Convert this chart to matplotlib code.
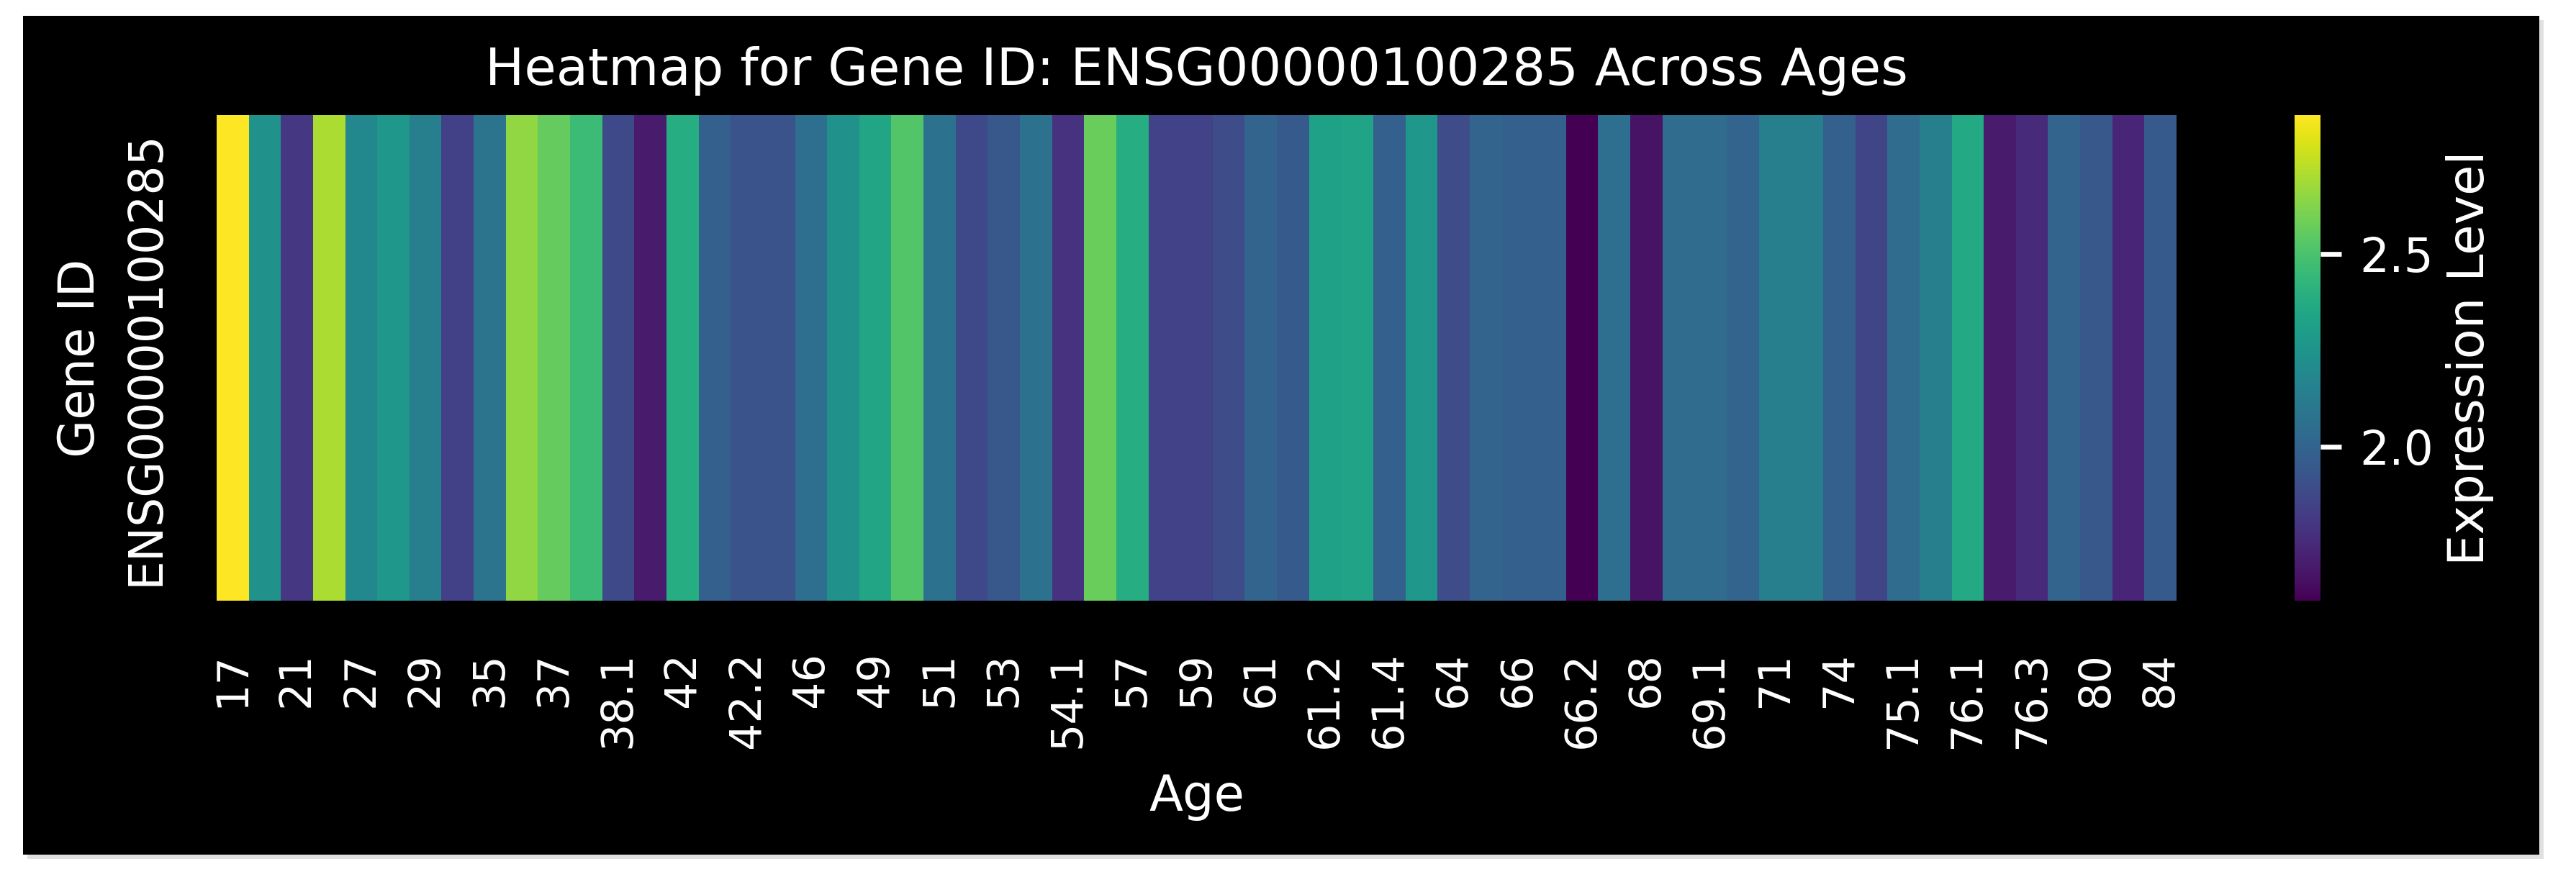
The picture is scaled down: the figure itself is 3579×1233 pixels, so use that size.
import numpy as np
import pandas as pd
import matplotlib
matplotlib.use("Agg")
import matplotlib.pyplot as plt
from matplotlib.patches import Rectangle
import seaborn as sns

# Datos
gene_id = "ENSG00000100285"

# solo se etiqueta una columna de cada dos
age_labels = ["17", "21", "27", "29", "35", "37", "38.1", "42", "42.2", "46",
              "49", "51", "53", "54.1", "57", "59", "61", "61.2", "61.4", "64",
              "66", "66.2", "68", "69.1", "71", "74", "75.1", "76.1", "76.3",
              "80", "84"]

expression = [2.86, 2.23, 1.80, 2.70, 2.19, 2.27, 2.14, 1.84, 2.08, 2.65,
              2.56, 2.46, 1.88, 1.69, 2.38, 1.98, 1.92, 1.92, 2.05, 2.23,
              2.34, 2.52, 2.07, 1.88, 1.94, 2.07, 1.78, 2.57, 2.38, 1.85,
              1.85, 1.89, 2.00, 1.95, 2.32, 2.33, 1.98, 2.27, 1.89, 2.00,
              1.98, 1.98, 1.60, 2.05, 1.66, 2.04, 2.04, 2.00, 2.14, 2.14,
              1.98, 1.86, 2.04, 2.14, 2.36, 1.69, 1.75, 2.00, 1.94, 1.73,
              1.95]

cbar_ticks = [2.0, 2.5]

W, H = 3579, 1233
df = pd.DataFrame([expression], index=[gene_id])

fig = plt.figure(figsize=(W / 300, H / 300), dpi=300, facecolor="white")

# fondo negro con una sombra gris clara
fig.add_artist(Rectangle((38 / W, 1 - 1194 / H), (3528 - 32) / W, (1188 - 22) / H,
                         transform=fig.transFigure, facecolor="#e0e0e0",
                         edgecolor="none", zorder=0))
fig.add_artist(Rectangle((32 / W, 1 - 1188 / H), (3528 - 32) / W, (1188 - 22) / H,
                         transform=fig.transFigure, facecolor="black",
                         edgecolor="none", zorder=0))

ax = fig.add_axes([301 / W, 1 - 835 / H, 2723 / W, 675 / H])
cax = fig.add_axes([3188 / W, 1 - 835 / H, 36 / W, 675 / H])

sns.heatmap(df, ax=ax, cbar_ax=cax, cmap="viridis", xticklabels=False,
            cbar_kws={"label": "Expression Level", "ticks": cbar_ticks})

ax.set_xticks(np.arange(len(age_labels)) * 2 + 0.5)
ax.set_xticklabels(age_labels, rotation=90, color="white", fontsize=14.5)
ax.set_yticks([0.5])
ax.set_yticklabels([gene_id], rotation=90, va="center", color="white", fontsize=15.5)
ax.tick_params(axis="x", length=0, pad=17)
ax.tick_params(axis="y", length=0, pad=16)

ax.set_title(f"Heatmap for Gene ID: {gene_id} Across Ages", color="white",
             fontsize=17.3, pad=10)
ax.set_xlabel("Age", color="white", fontsize=16.5, labelpad=8)
ax.set_ylabel("Gene ID", color="white", fontsize=16.5, labelpad=6)

cax.tick_params(colors="white", length=7, width=1.6, labelsize=15.5, pad=6)
cax.yaxis.label.set_color("white")
cax.yaxis.label.set_fontsize(16.5)
cax.yaxis.labelpad = 4

fig.savefig("out.png", dpi=300, facecolor=fig.get_facecolor())
